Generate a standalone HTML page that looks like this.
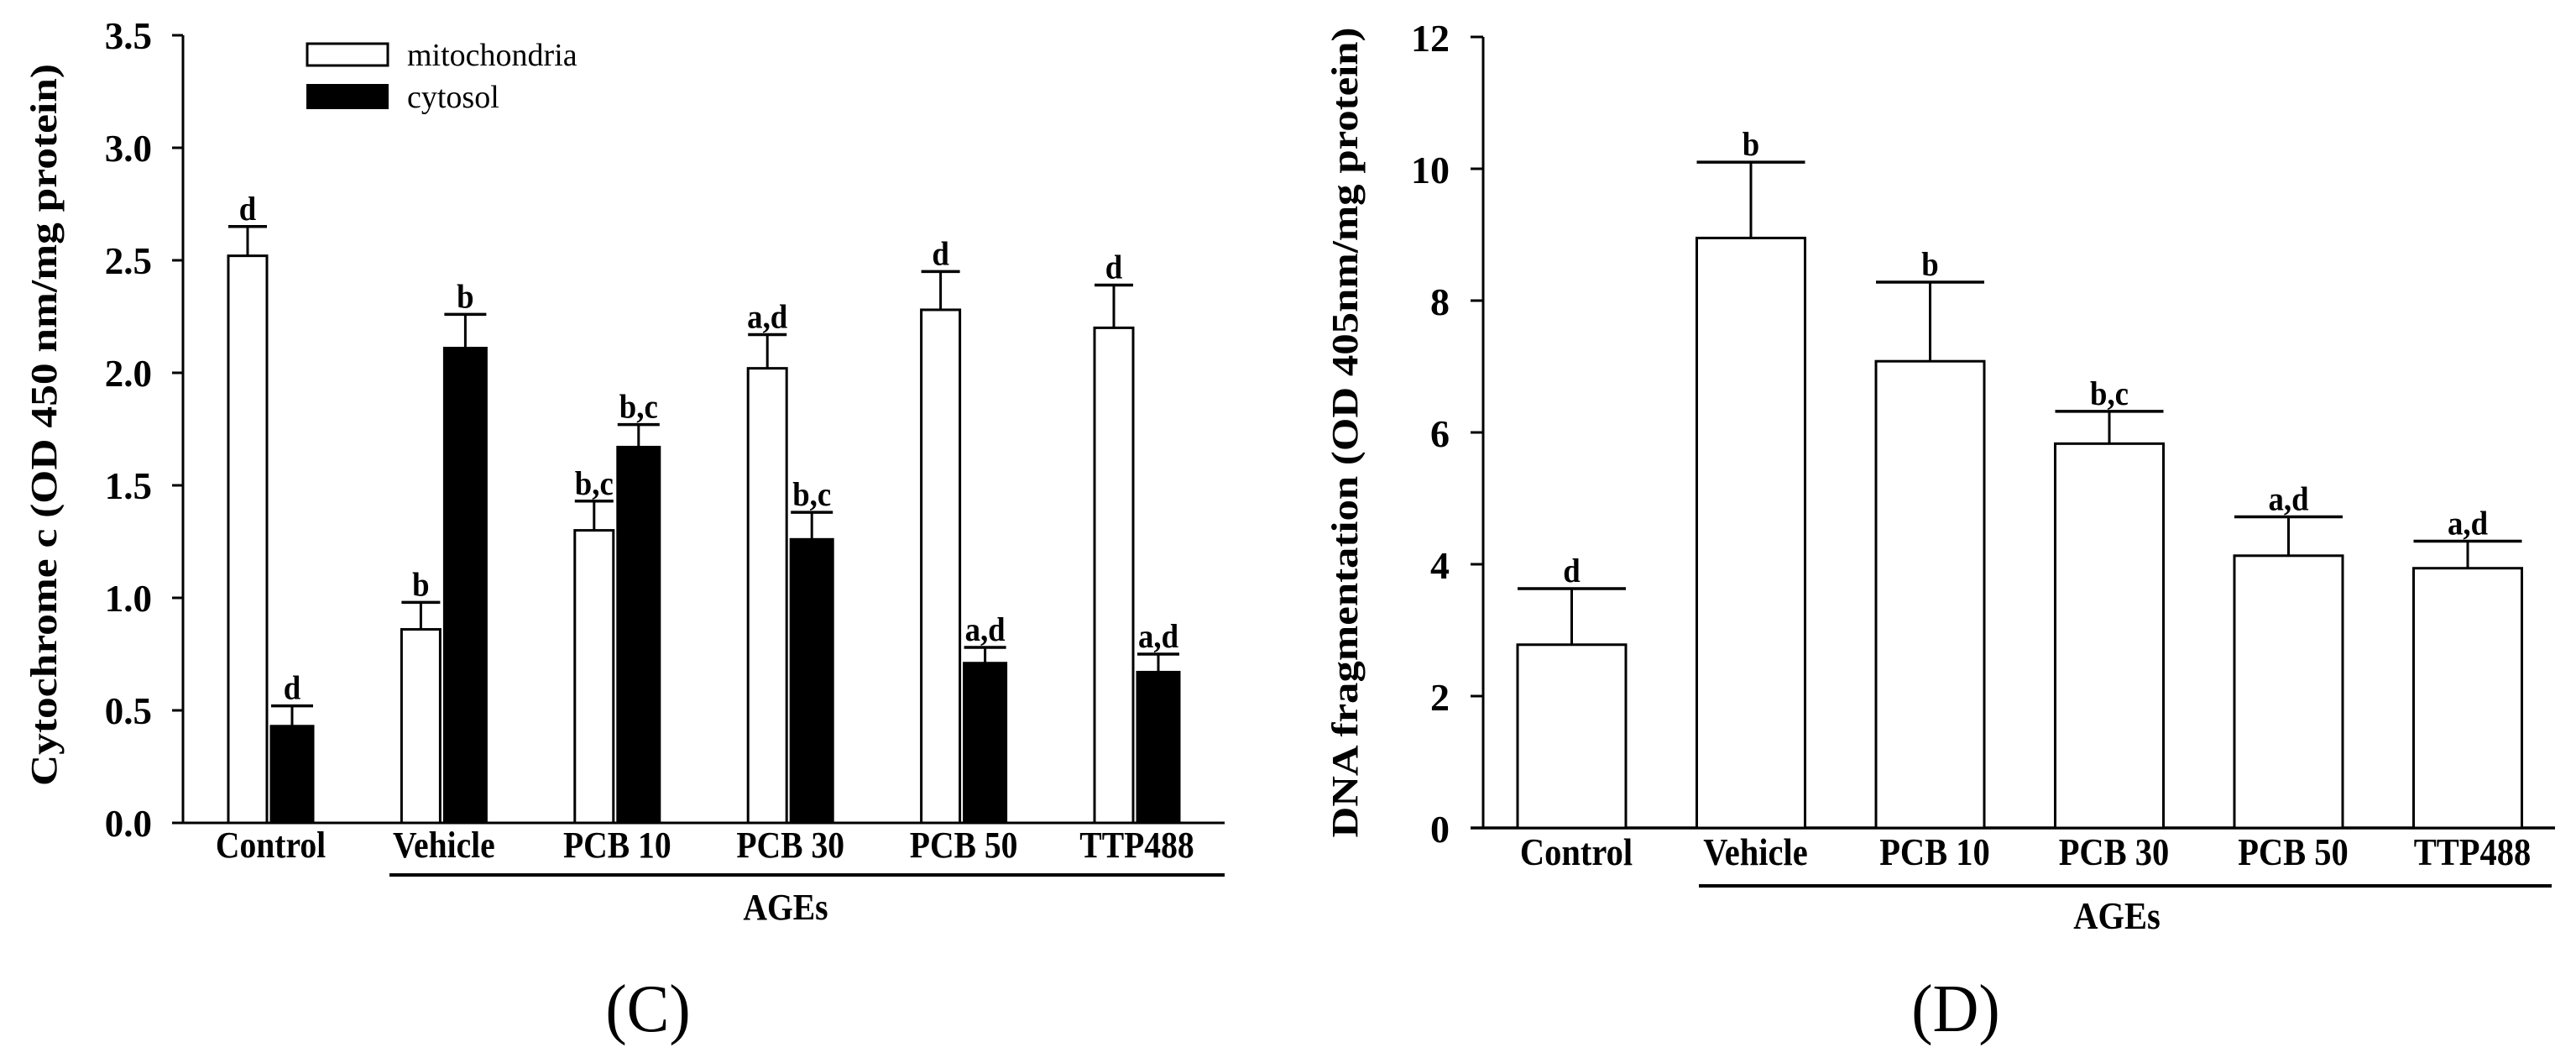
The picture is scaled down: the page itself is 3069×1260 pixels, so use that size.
<!DOCTYPE html>
<html><head><meta charset="utf-8"><style>
html,body{margin:0;padding:0;background:#fff;overflow:hidden}
svg{display:block}
text{font-family:"Liberation Serif",serif;fill:#000}
</style></head><body>
<svg id="fig" width="3069" height="1260" viewBox="0 0 3069 1260"></svg>
<script>
const categories = ["Control","Vehicle","PCB 10","PCB 30","PCB 50","TTP488"];
const mitoValues = [2.52,0.86,1.30,2.02,2.28,2.20];
const mitoErrTop = [2.65,0.98,1.43,2.17,2.45,2.39];
const mitoSig = ["d","b","b,c","a,d","d","d"];
const cytoValues = [0.43,2.11,1.67,1.26,0.71,0.67];
const cytoErrTop = [0.52,2.26,1.77,1.38,0.78,0.75];
const cytoSig = ["d","b","b,c","b,c","a,d","a,d"];
const leftTicks = [0,0.5,1.0,1.5,2.0,2.5,3.0,3.5];
const dnaValues = [2.78,8.95,7.08,5.83,4.13,3.94];
const dnaErrTop = [3.63,10.1,8.28,6.32,4.72,4.35];
const dnaSig = ["d","b","b","b,c","a,d","a,d"];
const rightTicks = [0,2,4,6,8,10,12];

const NS="http://www.w3.org/2000/svg";
const svg=document.getElementById('fig');
function el(tag,attrs,parent,txt){const e=document.createElementNS(NS,tag);for(const k in attrs)e.setAttribute(k,attrs[k]);if(txt!==undefined)e.textContent=txt;(parent||svg).appendChild(e);return e;}
function ctext(g,x,y,size,str,sx,weight){return el('text',{x:0,y:0,'text-anchor':'middle','font-size':size,'font-weight':weight||'bold',transform:`translate(${x},${y}) scale(${sx},1)`},g,str);}

// ---- Left chart (C)
const L={x0:218,x1:1459,yTop:42,yBot:980,max:3.5};
const ly=v=>L.yBot-(v/L.max)*(L.yBot-L.yTop);
const gL=el('g',{});


let a=el('line',{x1:L.x0,y1:L.yTop,x2:L.x0,y2:L.yBot,stroke:'#000','stroke-width':3},gL);

a=el('line',{x1:L.x0-13,y1:L.yBot,x2:L.x1,y2:L.yBot,stroke:'#000','stroke-width':3},gL);

leftTicks.forEach(t=>{
  const y=ly(t);
  el('line',{x1:L.x0-13,y1:y,x2:L.x0,y2:y,stroke:'#000','stroke-width':3},gL);
  const tx=el('text',{x:181,y:y+16,'text-anchor':'end','font-size':45,'font-weight':'bold'},gL,t.toFixed(1));
  
});
function bar(g,x,w,v,top,sig,fill,yf,name){
  const r=el('rect',{x:x,y:yf(v),width:w,height:yf(0)-yf(v),fill:fill,stroke:'#000','stroke-width':3},g);
  
  const cx=x+w/2;
  el('line',{x1:cx,y1:yf(v),x2:cx,y2:yf(top),stroke:'#000','stroke-width':3},g);
  el('line',{x1:x,y1:yf(top),x2:x+w,y2:yf(top),stroke:'#000','stroke-width':3.5},g);
  const s=ctext(g,cx,yf(top)-8,40,sig,0.92);
  
}
categories.forEach((c,i)=>{
  const wx=272+i*206.4, bx=323+i*206.4;
  bar(gL,wx,46,mitoValues[i],mitoErrTop[i],mitoSig[i],'#fff',ly,'bar-mitochondria');
  bar(gL,bx,50,cytoValues[i],cytoErrTop[i],cytoSig[i],'#000',ly,'bar-cytosol');
  const t=ctext(gL,(wx+bx+50)/2,1021,44,c,0.9);
  
});
a=el('line',{x1:464,y1:1042,x2:1459,y2:1042,stroke:'#000','stroke-width':4},gL);

a=ctext(gL,936,1095,44,'AGEs',0.9);

a=el('text',{x:0,y:0,'text-anchor':'middle','font-size':44,'font-weight':'bold',textLength:860,lengthAdjust:'spacingAndGlyphs',transform:'translate(67,506) rotate(-90)'},gL,'Cytochrome c (OD 450 nm/mg protein)');

a=ctext(gL,772,1228,80,'(C)',0.95,'normal');

// legend
a=el('rect',{x:366,y:52,width:96,height:26,fill:'#fff',stroke:'#000','stroke-width':3},gL);

a=el('text',{x:485,y:78,'font-size':38},gL,'mitochondria');

a=el('rect',{x:366,y:101,width:96,height:28,fill:'#000',stroke:'#000','stroke-width':2},gL);

a=el('text',{x:485,y:128,'font-size':38},gL,'cytosol');


// ---- Right chart (D)
const R={x0:1767,x1:3044,yTop:44,yBot:986,max:12};
const ry=v=>R.yBot-(v/R.max)*(R.yBot-R.yTop);
const gR=el('g',{});


a=el('line',{x1:R.x0,y1:R.yTop,x2:R.x0,y2:R.yBot,stroke:'#000','stroke-width':3},gR);

a=el('line',{x1:R.x0-15,y1:R.yBot,x2:R.x1,y2:R.yBot,stroke:'#000','stroke-width':3.5},gR);

rightTicks.forEach(t=>{
  const y=ry(t);
  el('line',{x1:R.x0-15,y1:y,x2:R.x0,y2:y,stroke:'#000','stroke-width':3},gR);
  const tx=el('text',{x:1727,y:y+17,'text-anchor':'end','font-size':46,'font-weight':'bold'},gR,String(t));
  
});
categories.forEach((c,i)=>{
  const x=1808+i*213.5;
  bar(gR,x,129,dnaValues[i],dnaErrTop[i],dnaSig[i],'#fff',ry,'bar-dna-fragmentation');
  const t=ctext(gR,x+70,1030,45,c,0.9);
  
});
a=el('line',{x1:2024,y1:1055,x2:3040,y2:1055,stroke:'#000','stroke-width':4},gR);

a=ctext(gR,2522,1106,45,'AGEs',0.9);

a=el('text',{x:0,y:0,'text-anchor':'middle','font-size':44,'font-weight':'bold',textLength:965,lengthAdjust:'spacingAndGlyphs',transform:'translate(1617,515) rotate(-90)'},gR,'DNA fragmentation (OD 405nm/mg protein)');

a=ctext(gR,2330,1228,80,'(D)',0.95,'normal');

</script>
</body></html>
